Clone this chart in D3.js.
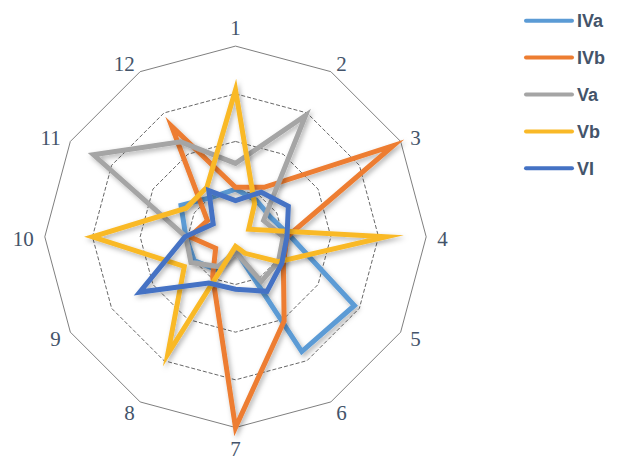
<!DOCTYPE html>
<html>
<head>
<meta charset="utf-8">
<script src="https://cdn.jsdelivr.net/npm/d3@7"></script>
<style>
  html, body { margin: 0; padding: 0; background: #fff; }
  svg { display: block; }
</style>
</head>
<body>
<svg id="chart" width="620" height="460"></svg>
<script>
// ---- data ----
const axisLabels = ["1","2","3","4","5","6","7","8","9","10","11","12"];
const seriesNames = ["IVa","IVb","Va","Vb","VI"];
const IVa = [25, 22, 21, 29, 72, 69.5, 7, 20, 25, 26, 33, 24];
const IVb = [26, 30, 95.5, 27, 29, 51, 100, 24, 12, 24, 17, 67];
const Va  = [38.5, 73.5, 17, 25, 26, 27, 8, 18, 27, 26, 86, 57.5];
const Vb  = [77, 20, 8, 79, 26, 10, 5, 71, 31, 75, 30, 30];
const VI  = [19, 27, 32, 27, 28, 33, 27.5, 28, 58, 26.5, 13.5, 28];
const gridTicks = [25, 50, 75, 100];
const seriesColors = ["#5B9BD5", "#ED7D31", "#A5A5A5", "#F9B928", "#4472C4"];

const allSeries = [IVa, IVb, Va, Vb, VI];

// ---- layout ----
const svg = d3.select("#chart");
const cx = 235.5, cy = 236.8, R = 190.7;
const r = d3.scaleLinear().domain([0, 100]).range([0, R]);
const ang = d3.scaleLinear().domain([0, axisLabels.length]).range([0, 2 * Math.PI]);

const defs = svg.append("defs");
const f = defs.append("filter").attr("id", "shadow")
  .attr("x", "-20%").attr("y", "-20%").attr("width", "140%").attr("height", "140%");
f.append("feDropShadow").attr("dx", 2).attr("dy", 2.5)
  .attr("stdDeviation", 2.4).attr("flood-color", "#000").attr("flood-opacity", 0.3);

const g = svg.append("g").attr("transform", `translate(${cx},${cy})`);

// grid rings
const ringLine = d3.lineRadial()
  .angle((d, i) => ang(i))
  .radius(d => r(d))
  .curve(d3.curveLinearClosed);

gridTicks.forEach(t => {
  g.append("path")
    .attr("d", ringLine(axisLabels.map(() => t)))
    .attr("fill", "none")
    .attr("stroke", t === 100 ? "#7f7f7f" : "#404040")
    .attr("stroke-width", t === 100 ? 1 : 0.8)
    .attr("stroke-dasharray", t === 100 ? null : "4,2");
});

// axis labels
axisLabels.forEach((lab, i) => {
  const a = ang(i);
  const s = Math.sin(a), c = Math.cos(a);
  const gap = 11;
  let x = (R + gap) * s, y = -(R + gap) * c;
  let anchor = "middle";
  if (s > 0.1) anchor = "start";
  else if (s < -0.1) anchor = "end";
  if (Math.abs(c) > 0.9) y += (c > 0 ? -9 : 9);
  g.append("text")
    .attr("x", x).attr("y", y + 1.5)
    .attr("dy", "0.35em")
    .attr("text-anchor", anchor)
    .attr("font-family", "'Liberation Serif', 'DejaVu Serif', serif")
    .attr("font-size", 21)
    .attr("fill", "#44546A")
    .text(lab);
});

// series
const seriesLine = d3.lineRadial()
  .angle((d, i) => ang(i))
  .radius(d => r(d))
  .curve(d3.curveLinearClosed);

allSeries.forEach((vals, k) => {
  g.append("path")
    .attr("d", seriesLine(vals))
    .attr("fill", "none")
    .attr("stroke", seriesColors[k])
    .attr("stroke-width", 5)
    .attr("stroke-linejoin", "miter")
    .attr("stroke-miterlimit", 20)
    .attr("filter", "url(#shadow)");
});

// legend
const ly = d3.scalePoint().domain(seriesNames).range([20.7, 168.3]);
const leg = svg.append("g");
seriesNames.forEach((name, k) => {
  const y = ly(name);
  leg.append("line")
    .attr("x1", 526).attr("x2", 572)
    .attr("y1", y).attr("y2", y)
    .attr("stroke", seriesColors[k])
    .attr("stroke-width", 4)
    .attr("stroke-linecap", "round");
  leg.append("text")
    .attr("x", 577).attr("y", y)
    .attr("dy", "0.36em")
    .attr("font-family", "'Liberation Sans', Arial, sans-serif")
    .attr("font-weight", "bold")
    .attr("font-size", 18)
    .attr("fill", "#44546A")
    .text(name);
});
</script>
</body>
</html>
